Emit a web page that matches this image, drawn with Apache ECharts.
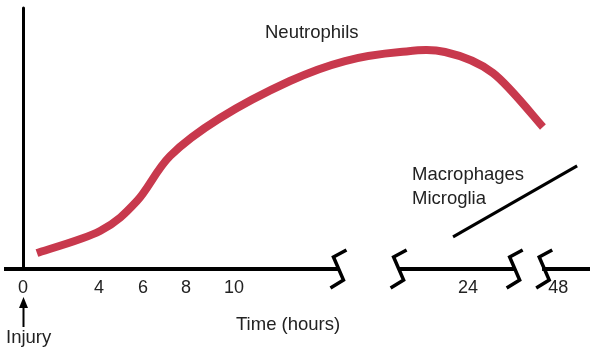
<!DOCTYPE html>
<html>
<head>
<meta charset="utf-8">
<script src="https://cdn.jsdelivr.net/npm/echarts@6/dist/echarts.min.js"></script>
<style>
html,body{margin:0;padding:0;background:#fff;}
#chart{width:595px;height:355px;}
</style>
</head>
<body>
<div id="chart"></div>
<script>
// Schematic time axis: positions along the drawn axis (broken axis), with hour labels
const tickPositions = [0, 3.6, 5.69, 7.73, 10, 21.09, 25.36];
const tickLabels = ['0', '4', '6', '8', '10', '24', '48'];

// Neutrophil response curve (x: axis position, y: relative level 0-100)
const neutrophilX = [0.66, 3.65, 5.40, 6.97, 9.34, 12.65, 15.26, 17.87, 20.0, 22.27, 24.64];
const neutrophilY = [6.13, 14.56, 26.05, 43.3, 57.85, 72.03, 79.69, 83.14, 83.14, 75.1, 54.41];

// Macrophages / microglia response
const macrophageX = [20.38, 26.26];
const macrophageY = [12.3, 39.5];

// Axis segments between breaks and break positions
const axisSegments = [[-0.9, 14.95], [17.8, 23.3], [24.6, 26.87]];
const breakPositions = [14.95, 17.8, 23.3, 24.7];

const chart = echarts.init(document.getElementById('chart'));
const FONT = 'Liberation Sans, Arial, sans-serif';
const TXT = '#222';

const segSeries = axisSegments.map(function (s) {
  return {
    type: 'line', data: [[s[0], 0], [s[1], 0]], symbol: 'none', silent: true,
    lineStyle: { color: '#000', width: 4 }, z: 3, animation: false
  };
});

const zig = [[8, -19], [-5, -12], [5, 11], [-8, 19]];

// Smooth (Catmull-Rom) path through the data points, mapped by the axes
function smoothPath(api, xs, ys) {
  const p = xs.map(function (x, i) { return api.coord([x, ys[i]]); });
  let d = 'M' + p[0][0] + ' ' + p[0][1];
  for (let i = 0; i < p.length - 1; i++) {
    const p0 = p[i - 1] || p[i], p1 = p[i], p2 = p[i + 1], p3 = p[i + 2] || p[i + 1];
    const c1x = p1[0] + (p2[0] - p0[0]) / 6, c1y = p1[1] + (p2[1] - p0[1]) / 6;
    const c2x = p2[0] - (p3[0] - p1[0]) / 6, c2y = p2[1] - (p3[1] - p1[1]) / 6;
    d += ' C' + c1x + ' ' + c1y + ' ' + c2x + ' ' + c2y + ' ' + p2[0] + ' ' + p2[1];
  }
  return d;
}

chart.setOption({
  animation: false,
  grid: { left: 4, right: 5, top: 8, bottom: 86, containLabel: false },
  xAxis: {
    type: 'value', min: -0.9, max: 26.87,
    axisLine: { show: false },
    axisTick: { show: false },
    splitLine: { show: false },
    axisLabel: {
      customValues: tickPositions,
      margin: 10,
      fontSize: 18,
      fontFamily: FONT,
      color: TXT,
      formatter: function (v) {
        let best = 0;
        for (let i = 0; i < tickPositions.length; i++) {
          if (Math.abs(tickPositions[i] - v) < Math.abs(tickPositions[best] - v)) best = i;
        }
        return tickLabels[best];
      }
    }
  },
  yAxis: {
    type: 'value', min: 0, max: 100,
    axisLine: { show: true, onZero: true, lineStyle: { color: '#000', width: 3 } },
    axisTick: { show: false },
    axisLabel: { show: false },
    splitLine: { show: false }
  },
  series: segSeries.concat([
    {
      type: 'custom', silent: true, z: 4,
      data: breakPositions.map(function (b) { return [b, 0]; }),
      renderItem: function (params, api) {
        const p = api.coord([api.value(0), api.value(1)]);
        return {
          type: 'polyline',
          shape: { points: zig.map(function (d) { return [p[0] + d[0], p[1] + d[1]]; }) },
          style: { stroke: '#000', lineWidth: 3.5, fill: null, lineJoin: 'miter' }
        };
      }
    },
    {
      name: 'Neutrophils', type: 'custom', silent: true, z: 5,
      data: [[neutrophilX[0], neutrophilY[0]]],
      renderItem: function (params, api) {
        return {
          type: 'path',
          shape: { pathData: smoothPath(api, neutrophilX, neutrophilY) },
          style: { stroke: '#C8394D', lineWidth: 8, fill: null }
        };
      }
    },
    {
      name: 'Macrophages Microglia', type: 'line', symbol: 'none',
      data: macrophageX.map(function (x, i) { return [x, macrophageY[i]]; }),
      lineStyle: { color: '#000', width: 3 }, z: 5
    }
  ]),
  graphic: [
    { type: 'text', left: 265, top: 23, style: { text: 'Neutrophils', font: '18.5px ' + FONT, fill: TXT } },
    { type: 'text', left: 412, top: 163, style: { text: 'Macrophages\nMicroglia', font: '18.5px ' + FONT, fill: TXT, lineHeight: 24 } },
    { type: 'text', left: 236, top: 315, style: { text: 'Time (hours)', font: '18.5px ' + FONT, fill: TXT } },
    { type: 'text', left: 6, top: 328, style: { text: 'Injury', font: '18.5px ' + FONT, fill: TXT } },
    { type: 'line', shape: { x1: 23.5, y1: 306, x2: 23.5, y2: 327 }, style: { stroke: '#000', lineWidth: 2 } },
    { type: 'polygon', shape: { points: [[23.5, 297], [19, 308], [28, 308]] }, style: { fill: '#000' } }
  ]
});
</script>
</body>
</html>
